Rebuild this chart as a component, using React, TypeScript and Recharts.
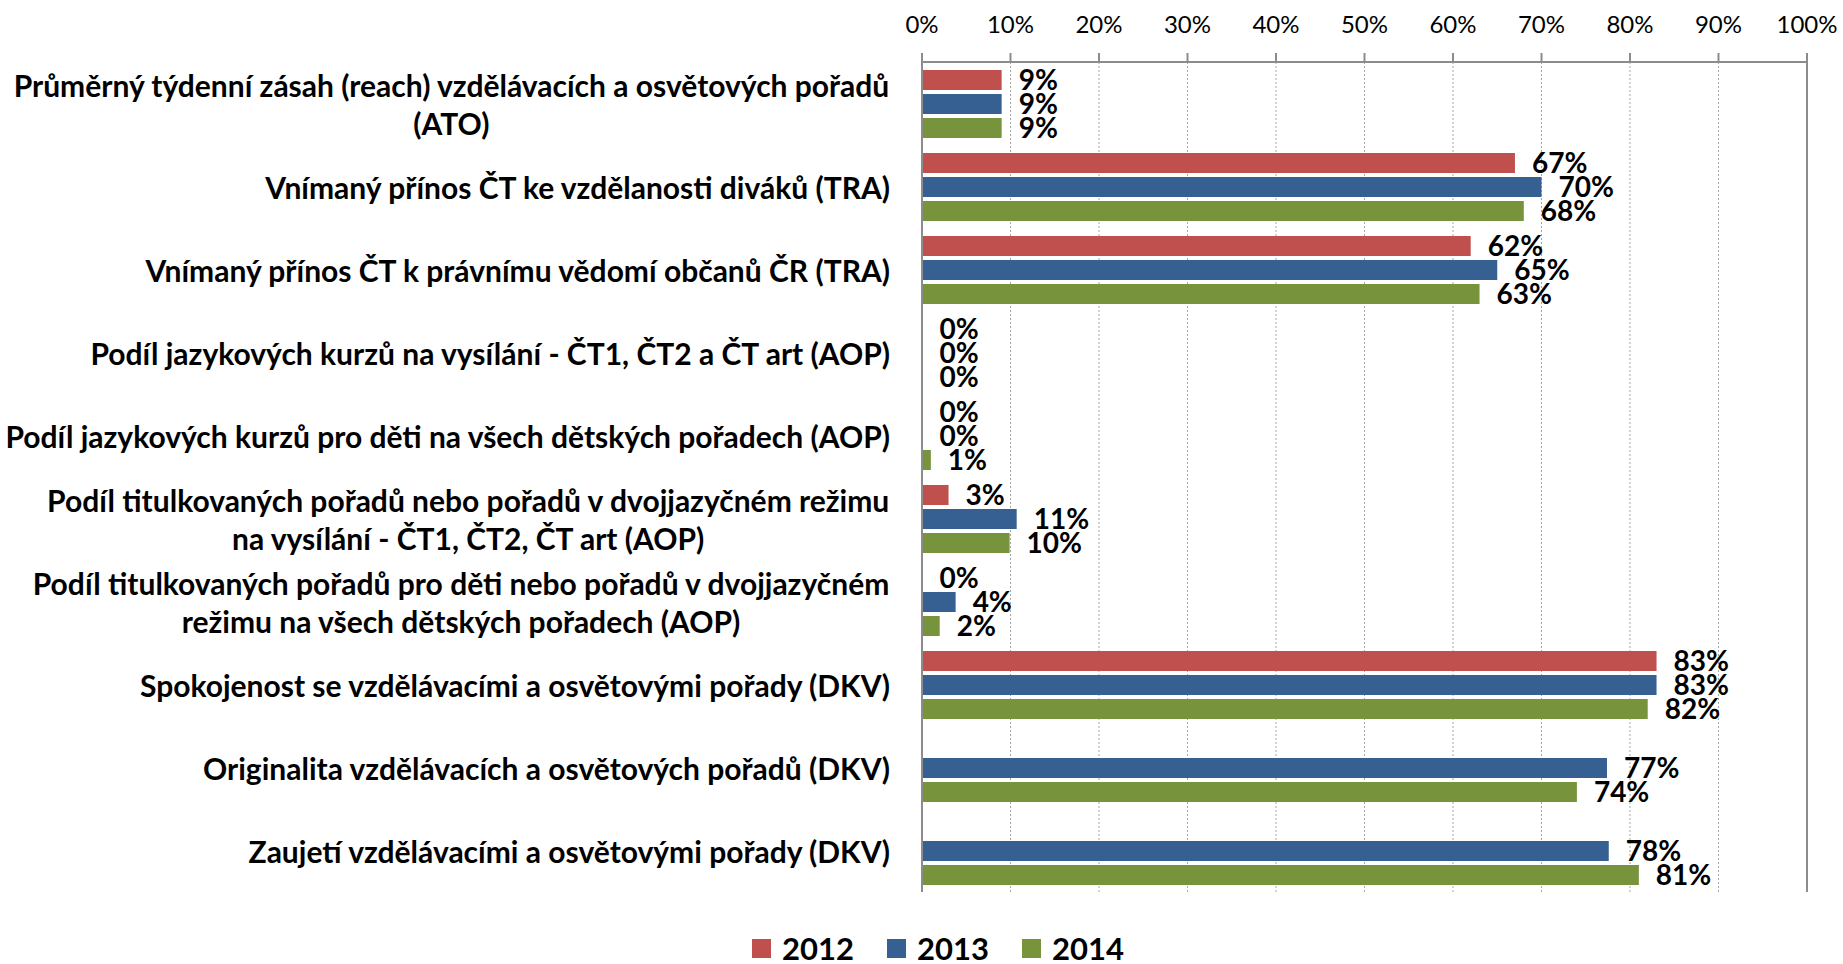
import React from 'react';
import {
  BarChart,
  Bar,
  XAxis,
  YAxis,
  CartesianGrid,
  Legend,
  LabelList,
  ReferenceLine,
} from 'recharts';

const CATEGORIES = [
  'Průměrný týdenní zásah (reach) vzdělávacích a osvětových pořadů\n(ATO)',
  'Vnímaný přínos ČT ke vzdělanosti diváků (TRA)',
  'Vnímaný přínos ČT k právnímu vědomí občanů ČR (TRA)',
  'Podíl jazykových kurzů na vysílání - ČT1, ČT2 a ČT art (AOP)',
  'Podíl jazykových kurzů pro děti na všech dětských pořadech (AOP)',
  'Podíl titulkovaných pořadů nebo pořadů v dvojjazyčném režimu\nna vysílání - ČT1, ČT2, ČT art (AOP)',
  'Podíl titulkovaných pořadů pro děti nebo pořadů v dvojjazyčném\nrežimu na všech dětských pořadech (AOP)',
  'Spokojenost se vzdělávacími a osvětovými pořady (DKV)',
  'Originalita vzdělávacích a osvětových pořadů (DKV)',
  'Zaujetí vzdělávacími a osvětovými pořady (DKV)',
];

// tiny shares (shown as 0%) kept just above zero so their labels still draw
const Y2012 = [9, 67, 62, 0.05, 0.05, 3, 0.05, 83, null, null];
const Y2013 = [9, 70, 65, 0.05, 0.05, 10.7, 3.8, 83, 77.4, 77.6];
const Y2014 = [9, 68, 63, 0.05, 1, 9.9, 2, 82, 74, 81];

const X_TICKS = [0, 10, 20, 30, 40, 50, 60, 70, 80, 90, 100];
const BOUNDARY_TICKS = [0, 1, 2, 3, 4, 5, 6, 7, 8, 9, 10];

const SERIES = [
  { key: 'y2012', name: '2012', color: '#C0504D' },
  { key: 'y2013', name: '2013', color: '#376092' },
  { key: 'y2014', name: '2014', color: '#77933C' },
];

const FONT = 'Lato, "Open Sans", sans-serif';
const AXIS_GRAY = '#8c8c8c';
const CAT_FONT_SIZE = 30;

const data = CATEGORIES.map((name, i) => ({
  name,
  y2012: Y2012[i],
  y2013: Y2013[i],
  y2014: Y2014[i],
}));

let measureCtx: CanvasRenderingContext2D | null = null;
const textWidth = (s: string, font: string) => {
  if (!measureCtx) measureCtx = document.createElement('canvas').getContext('2d');
  if (!measureCtx) return s.length * 14;
  measureCtx.font = font;
  return measureCtx.measureText(s).width;
};

const CategoryTick = (props: any) => {
  const { x, y, payload } = props;
  const lines = String(payload.value).split('\n');
  const right = x - 32;
  const font = `bold ${CAT_FONT_SIZE}px Lato`;
  const maxW = Math.max(...lines.map((l) => textWidth(l, font)));
  const lh = 38;
  return (
    <g>
      {lines.map((l, i) => (
        <text
          key={i}
          x={lines.length > 1 ? right - maxW / 2 : right}
          y={y + (i - (lines.length - 1) / 2) * lh}
          textAnchor={lines.length > 1 ? 'middle' : 'end'}
          dominantBaseline="central"
          fontFamily={FONT}
          fontWeight={700}
          fontSize={CAT_FONT_SIZE}
          fill="#000"
        >
          {l}
        </text>
      ))}
    </g>
  );
};

const PercentTick = (props: any) => {
  const { x, y, payload } = props;
  return (
    <text
      x={x}
      y={y - 28}
      textAnchor="middle"
      dominantBaseline="central"
      fontFamily={FONT}
      fontSize={24}
      fill="#000"
    >
      {payload.value}%
    </text>
  );
};

const LegendContent = () => (
  <div
    style={{
      height: 72,
      display: 'flex',
      justifyContent: 'center',
      alignItems: 'flex-end',
      paddingLeft: 33,
      paddingBottom: 1,
      boxSizing: 'border-box',
    }}
  >
    {SERIES.map((s, i) => (
      <div
        key={s.key}
        style={{
          display: 'flex',
          alignItems: 'center',
          marginLeft: i === 0 ? 0 : 33,
          height: 30,
        }}
      >
        <span style={{ width: 19, height: 19, background: s.color, display: 'inline-block', marginRight: 11 }} />
        <span style={{ fontFamily: FONT, fontWeight: 700, fontSize: 31, color: '#000', lineHeight: '30px' }}>
          {s.name}
        </span>
      </div>
    ))}
  </div>
);

const labelFormatter = (v: any) => (v === null || v === undefined ? '' : `${Math.round(v)}%`);

export default function App() {
  return (
    <div style={{ position: 'absolute', left: 0, top: 0, width: 1843, height: 964, background: '#fff' }}>
      <BarChart
        width={1843}
        height={964}
        data={data}
        layout="vertical"
        margin={{ top: 0, right: 36, bottom: 0, left: 0 }}
        barSize={20}
        barGap={4}
      >
        <CartesianGrid horizontal={false} stroke="#a6a6a6" strokeDasharray="2 2" />
        <XAxis
          type="number"
          orientation="top"
          domain={[0, 100]}
          ticks={X_TICKS}
          interval={0}
          height={62}
          tickSize={9}
          stroke={AXIS_GRAY}
          strokeWidth={2}
          tickLine={{ stroke: AXIS_GRAY, strokeWidth: 2 }}
          axisLine={{ stroke: AXIS_GRAY, strokeWidth: 2 }}
          tick={<PercentTick />}
        />
        <YAxis
          yAxisId="b"
          type="number"
          domain={[0, 10]}
          ticks={BOUNDARY_TICKS}
          interval={0}
          width={0}
          tick={false}
          tickSize={10}
          tickLine={{ stroke: AXIS_GRAY, strokeWidth: 2 }}
          axisLine={false}
        />
        <YAxis
          type="category"
          dataKey="name"
          width={922}
          interval={0}
          tickLine={false}
          tickSize={0}
          tickMargin={0}
          axisLine={{ stroke: AXIS_GRAY, strokeWidth: 2 }}
          tick={<CategoryTick />}
        />
        <ReferenceLine x={100} stroke={AXIS_GRAY} strokeWidth={2} />
        <ReferenceLine yAxisId="b" y={0} stroke={AXIS_GRAY} strokeWidth={2} />
        <Legend verticalAlign="bottom" content={<LegendContent />} wrapperStyle={{ left: 0, width: 1843 }} />
        {SERIES.map((s) => (
          <Bar key={s.key} dataKey={s.key} name={s.name} fill={s.color} isAnimationActive={false}>
            <LabelList
              dataKey={s.key}
              position="right"
              offset={17}
              formatter={labelFormatter}
              fontFamily={FONT}
              fontWeight={700}
              fontSize={28}
              fill="#000"
            />
          </Bar>
        ))}
      </BarChart>
    </div>
  );
}
